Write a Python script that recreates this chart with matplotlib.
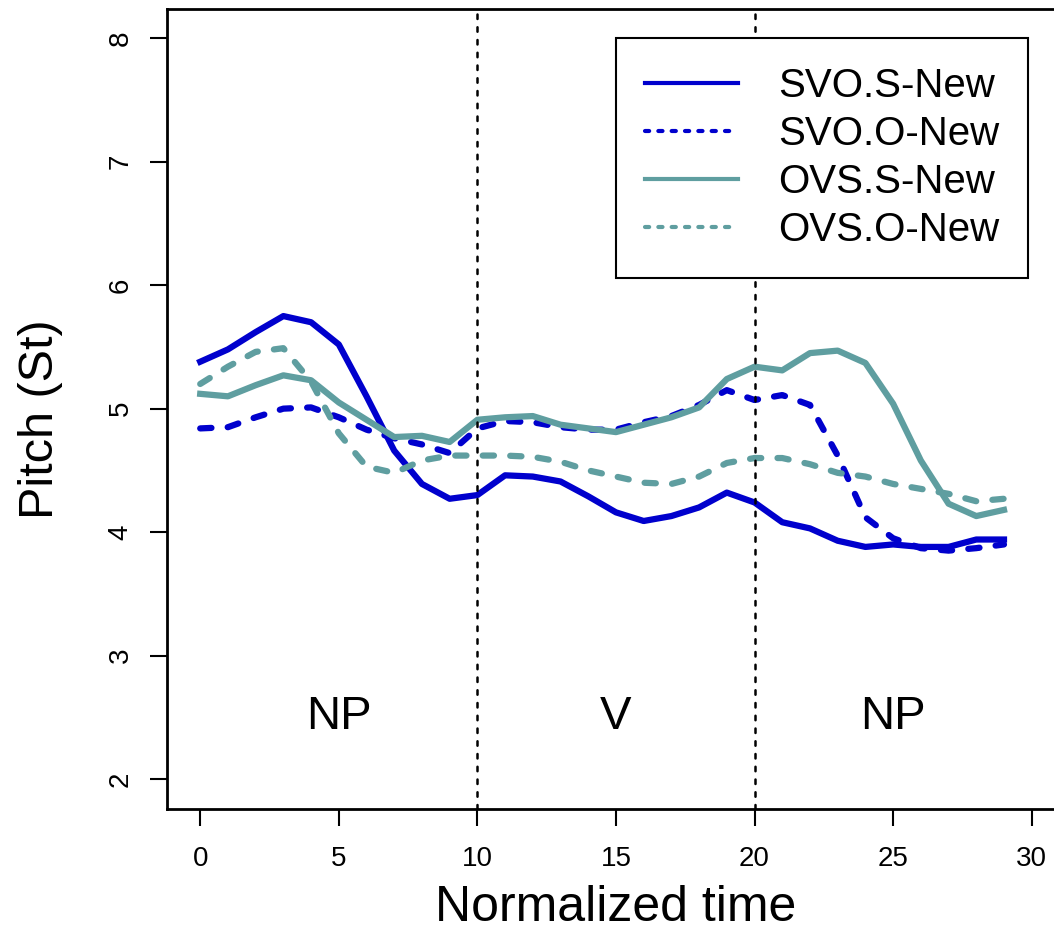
import numpy as np
import matplotlib
matplotlib.use('Agg')
import matplotlib.pyplot as plt
from matplotlib.lines import Line2D

plt.rcParams['font.family'] = ['Liberation Sans', 'DejaVu Sans']

# Mean pitch contours (semitones) over 30 normalized time points
time = np.arange(30)
svo_s = [5.38, 5.48, 5.62, 5.75, 5.70, 5.52, 5.10, 4.66, 4.39, 4.27,
         4.30, 4.46, 4.45, 4.41, 4.29, 4.16, 4.09, 4.13, 4.20, 4.32,
         4.24, 4.08, 4.03, 3.93, 3.88, 3.90, 3.88, 3.88, 3.94, 3.94]
svo_o = [4.84, 4.85, 4.93, 5.00, 5.01, 4.93, 4.83, 4.76, 4.71, 4.64,
         4.84, 4.90, 4.89, 4.85, 4.83, 4.83, 4.89, 4.94, 5.03, 5.15,
         5.07, 5.11, 5.03, 4.62, 4.12, 3.95, 3.87, 3.85, 3.87, 3.90]
ovs_s = [5.12, 5.10, 5.19, 5.27, 5.23, 5.05, 4.91, 4.77, 4.78, 4.73,
         4.91, 4.93, 4.94, 4.87, 4.84, 4.81, 4.87, 4.93, 5.01, 5.24,
         5.34, 5.31, 5.45, 5.47, 5.37, 5.04, 4.58, 4.23, 4.13, 4.18]
ovs_o = [5.20, 5.34, 5.46, 5.49, 5.22, 4.80, 4.53, 4.48, 4.58, 4.62,
         4.62, 4.62, 4.61, 4.57, 4.50, 4.45, 4.40, 4.39, 4.45, 4.56,
         4.60, 4.60, 4.55, 4.48, 4.45, 4.39, 4.35, 4.31, 4.25, 4.27]

labels = ['SVO.S-New', 'SVO.O-New', 'OVS.S-New', 'OVS.O-New']
region_names = ['NP', 'V', 'NP']
region_centers = [5, 15, 25]
boundaries = [10, 20]

blue = '#0000CD'
teal = '#5F9EA0'

fig = plt.figure(figsize=(10.54, 9.33), dpi=100)
ax = fig.add_axes([0.1584, 0.1333, 0.852, 0.8574])

lw = 4.5
dash = (1.8, 2.6)
ax.plot(time, svo_s, color=blue, lw=lw, solid_joinstyle='round')
ax.plot(time, svo_o, color=blue, lw=lw, dashes=dash, dash_capstyle='round')
ax.plot(time, ovs_s, color=teal, lw=lw, solid_joinstyle='round')
ax.plot(time, ovs_o, color=teal, lw=lw, dashes=dash, dash_capstyle='round')

for b in boundaries:
    ax.axvline(b, color='black', lw=1.8, dashes=(1.8, 3.3), dash_capstyle='round')

for name, xc in zip(region_names, region_centers):
    ax.text(xc, 2.5, name, fontsize=34, ha='center', va='center')

ax.set_xlim(-1.2, 31.2)
ax.set_ylim(1.76, 8.24)
ax.set_xticks(np.arange(0, 31, 5))
ax.set_yticks(np.arange(2, 9, 1))
ax.tick_params(axis='both', length=12, width=1.5, labelsize=20, direction='out')
ax.tick_params(axis='x', pad=15)
ax.tick_params(axis='y', pad=12)
for lab in ax.get_yticklabels():
    lab.set_rotation(90)
    lab.set_va('center')
for s in ax.spines.values():
    s.set_linewidth(2)

ax.set_xlabel('Normalized time', fontsize=36, va='baseline')
ax.xaxis.set_label_coords(0.5, -0.141)
ax.set_ylabel('Pitch (St)', fontsize=35, va='baseline')
ax.yaxis.set_label_coords(-0.127, 0.487)

handles = [
    Line2D([], [], color=blue, lw=3),
    Line2D([], [], color=blue, lw=3, dashes=(1, 2.2), dash_capstyle='round'),
    Line2D([], [], color=teal, lw=3),
    Line2D([], [], color=teal, lw=3, dashes=(1, 2.2), dash_capstyle='round'),
]
leg = ax.legend(handles, labels, loc='upper left',
                bbox_to_anchor=(0.5, 0.664, 0.4588, 0.299), mode='expand',
                fontsize=29, frameon=True, fancybox=False, framealpha=1,
                edgecolor='black', handlelength=2.3, handletextpad=1.0,
                labelspacing=0.25, borderpad=0.72, borderaxespad=0)
leg.get_frame().set_linewidth(1.5)
leg.set_zorder(5)

plt.savefig('out.png', dpi=100)
